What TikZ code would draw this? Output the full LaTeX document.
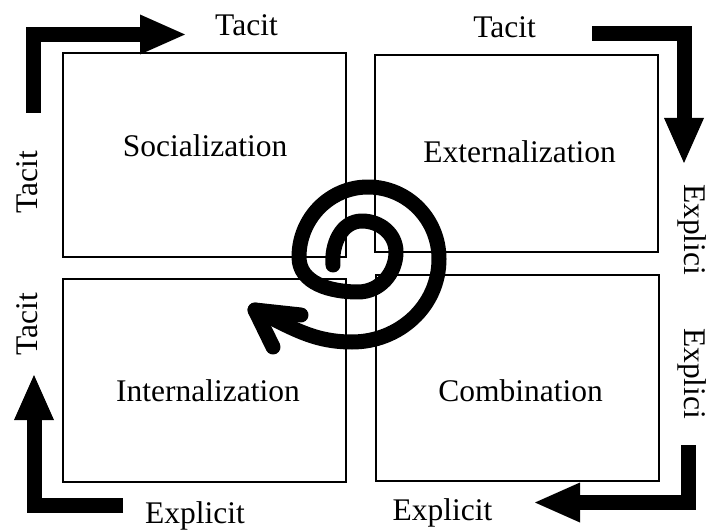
\documentclass[tikz,border=0pt]{standalone}
\usepackage{fontspec}
\setmainfont{Liberation Serif}
\usetikzlibrary{arrows.meta}

\begin{document}
\begin{tikzpicture}[x=1pt,y=1pt,
  quadrant/.style={draw, line width=1.6pt, inner sep=0pt, outer sep=0pt, minimum width=283pt},
  lbl/.style={font=\fontsize{31.5}{36}\selectfont, inner sep=0pt, anchor=base},
  flow/.style={line width=15pt, -{Triangle[length=45pt,width=40pt,line width=0pt]}},
  swirl/.style={line width=15pt, line cap=round, line join=round}]
\useasboundingbox (0,0) rectangle (709,531);
% the four modes
\node[quadrant, minimum height=204pt] (soc) at (204.5,376) {};
\node[quadrant, minimum height=197pt] (ext) at (516.5,377.5) {};
\node[quadrant, minimum height=203pt] (int) at (204.5,150.5) {};
\node[quadrant, minimum height=206pt] (com) at (517.5,153) {};
\node[lbl] (soc-text) at (205,374) {Socialization};
\node[lbl] (ext-text) at (519.5,368.5) {Externalization};
\node[lbl] (int-text) at (208,130) {Internalization};
\node[lbl] (com-text) at (520.5,130) {Combination};
% outer flows
\coordinate (tl-a) at (33.5,418);  \coordinate (tl-b) at (185,496.5);
\coordinate (tr-a) at (592,497);   \coordinate (tr-b) at (684,368);
\coordinate (br-a) at (688.5,86);  \coordinate (br-b) at (535,28.5);
\coordinate (bl-a) at (123,25.5);  \coordinate (bl-b) at (34,156);
\draw[flow] (tl-a) |- (tl-b);
\draw[flow] (tr-a) -| (tr-b);
\draw[flow] (br-a) |- (br-b);
\draw[flow] (bl-a) -| (bl-b);
\node[lbl] (t1) at (246.5,495) {Tacit};
\node[lbl] (t2) at (504.5,493) {Tacit};
\node[lbl, rotate=90] (t3) at (37,349) {Tacit};
\node[lbl, rotate=90] (t4) at (37,207) {Tacit};
\node[lbl, rotate=-90] (e1) at (684,301.5) {Explici};
\node[lbl, rotate=-90] (e2) at (684,157.5) {Explici};
\node[lbl] (e3) at (195,7.5) {Explicit};
\node[lbl] (e4) at (442.5,11) {Explicit};
% spiral
\coordinate (s0) at (333,266);
\coordinate (s1) at (362,310);
\coordinate (s2) at (396,279);
\coordinate (s3) at (358,239);
\coordinate (s4) at (299,274);
\coordinate (s5) at (368,344);
\coordinate (s6) at (439,272);
\coordinate (s7) at (352,189);
\coordinate (tip) at (255,221);
\coordinate (arm1) at (301,216);
\coordinate (arm2) at (273,184);
\draw[swirl] (s0) to[out=95,in=180] (s1) to[out=0,in=90] (s2) to[out=-90,in=0] (s3)
  to[out=180,in=-90] (s4) to[out=90,in=180] (s5) to[out=0,in=90] (s6)
  to[out=-90,in=0] (s7) to[out=180,in=-25] (tip);
\draw[swirl] (arm1) -- (tip) -- (arm2);
\end{tikzpicture}
\end{document}
